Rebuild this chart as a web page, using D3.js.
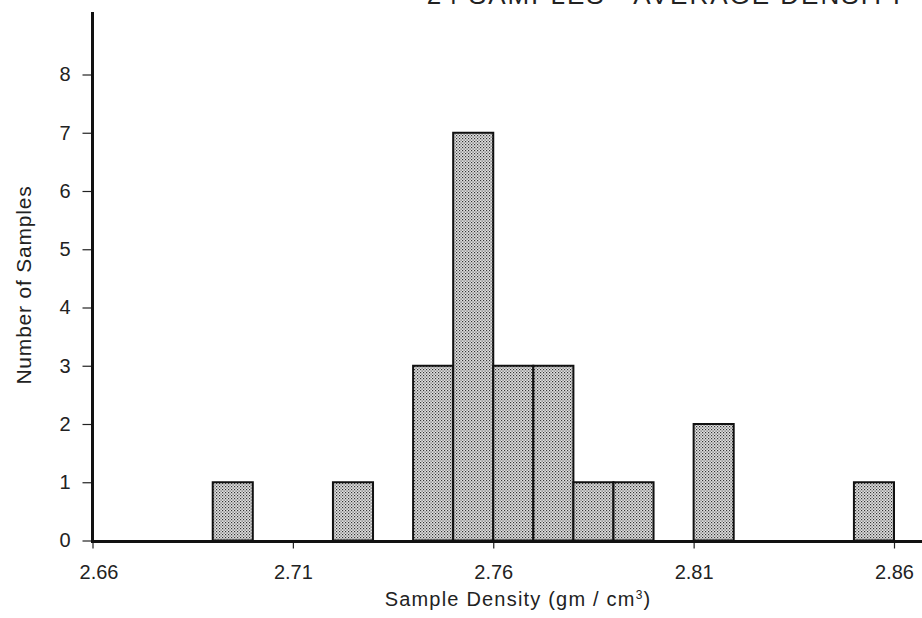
<!DOCTYPE html>
<html>
<head>
<meta charset="utf-8">
<script src="https://cdn.jsdelivr.net/npm/d3@7"></script>
<style>
  body { margin: 0; background: #fff; }
  text { font-family: "Liberation Sans", Helvetica, Arial, sans-serif; fill: #222; }
</style>
</head>
<body>
<div id="vis"></div>
<script>
// histogram bins (left edge of each 0.01 bin) and sample counts
const binStarts = [2.69, 2.72, 2.74, 2.75, 2.76, 2.77, 2.78, 2.79, 2.81, 2.85];
const counts = [1, 1, 3, 7, 3, 3, 1, 1, 2, 1];
const binWidth = 0.01;

// axis ticks
const xTicks = [2.66, 2.71, 2.76, 2.81, 2.86];
const yTicks = [0, 1, 2, 3, 4, 5, 6, 7, 8];

const width = 922, height = 618;

const svg = d3.select('#vis')
  .append('svg')
  .attr('width', width)
  .attr('height', height);

// stipple fill like the printed screen tone
const defs = svg.append('defs');
const pat = defs.append('pattern')
  .attr('id', 'stipple')
  .attr('patternUnits', 'userSpaceOnUse')
  .attr('width', 3)
  .attr('height', 3);
pat.append('rect').attr('width', 3).attr('height', 3).attr('fill', '#e2e2e2');
pat.append('rect').attr('x', 0).attr('y', 0).attr('width', 1.2).attr('height', 1.2).attr('fill', '#333');
pat.append('rect').attr('x', 1.5).attr('y', 1.5).attr('width', 1.2).attr('height', 1.2).attr('fill', '#555');

// scales
const x = d3.scaleLinear().domain([2.66, 2.86]).range([92.5, 894]);
const y = d3.scaleLinear().domain([0, 8]).range([540.5, 74.5]);

// bars
const bins = binStarts.map(function (s, i) { return { x0: s, x1: s + binWidth, n: counts[i] }; });

svg.selectAll('.bar')
  .data(bins)
  .enter().append('rect')
  .attr('class', 'bar')
  .attr('x', function (d) { return x(d.x0); })
  .attr('width', function (d) { return x(d.x1) - x(d.x0); })
  .attr('y', function (d) { return y(d.n); })
  .attr('height', function (d) { return y(0) - y(d.n); })
  .attr('fill', 'url(#stipple)')
  .attr('stroke', '#111')
  .attr('stroke-width', 2);

// x axis
const xAxis = svg.append('g')
  .attr('transform', 'translate(0,' + 541.5 + ')')
  .call(d3.axisBottom(x).tickValues(xTicks).tickSize(7).tickFormat(d3.format('.2f')));
xAxis.select('.domain').remove();
xAxis.selectAll('line').attr('stroke', '#222').attr('stroke-width', 1.2);
xAxis.selectAll('text')
  .attr('y', 37)
  .attr('dy', 0)
  .attr('x', function (d) { return d === 2.66 ? 6 : 0; })  // first label sits clear of the y axis
  .style('font-size', '20px');

// y axis
const yAxis = svg.append('g')
  .attr('transform', 'translate(92.5,0)')
  .call(d3.axisLeft(y).tickValues(yTicks).tickSize(10).tickPadding(12));
yAxis.select('.domain').remove();
yAxis.selectAll('line').attr('stroke', '#222').attr('stroke-width', 1.2);
yAxis.selectAll('text').style('font-size', '20px');

// heavy axis lines
svg.append('line')
  .attr('x1', 91).attr('x2', width)
  .attr('y1', 541.5).attr('y2', 541.5)
  .attr('stroke', '#111').attr('stroke-width', 3);
svg.append('line')
  .attr('x1', 92.5).attr('x2', 92.5)
  .attr('y1', 12).attr('y2', 543)
  .attr('stroke', '#111').attr('stroke-width', 3);

// axis titles
const xTitle = svg.append('text')
  .attr('x', 518)
  .attr('y', 606)
  .attr('text-anchor', 'middle')
  .style('font-size', '20px')
  .style('letter-spacing', '1.2px');
xTitle.append('tspan').text('Sample Density (gm / cm');
xTitle.append('tspan').attr('dy', -7).style('font-size', '12px').text('3');
xTitle.append('tspan').attr('dy', 7).text(')');

svg.append('text')
  .attr('transform', 'translate(31,285) rotate(-90)')
  .attr('text-anchor', 'middle')
  .style('font-size', '21px')
  .style('letter-spacing', '0.8px')
  .text('Number of Samples');

// title, cut off by the top edge
svg.append('text')
  .attr('x', 907)
  .attr('y', 4)
  .attr('text-anchor', 'end')
  .style('font-size', '26px')
  .style('letter-spacing', '2px')
  .text('24 SAMPLES - AVERAGE DENSITY');
</script>
</body>
</html>
